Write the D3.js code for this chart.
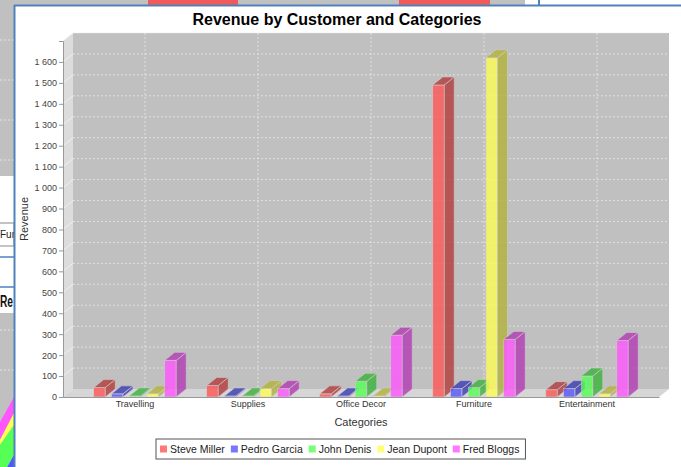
<!DOCTYPE html>
<html>
<head>
<meta charset="utf-8">
<script src="https://cdn.jsdelivr.net/npm/d3@7"></script>
<style>
  body { margin: 0; background: #fff; }
  svg { display: block; font-family: "Liberation Sans", Arial, sans-serif; }
</style>
</head>
<body>
<svg width="681" height="467"></svg>
<script>
// data
const categories = ['Travelling', 'Supplies', 'Office Decor', 'Furniture', 'Entertainment'];
const customers = ['Steve Miller', 'Pedro Garcia', 'John Denis', 'Jean Dupont', 'Fred Bloggs'];
const steveMiller = [45, 55, 15, 1490, 35];
const pedroGarcia = [15, 5, 5, 40, 40];
const johnDenis = [5, 5, 75, 45, 100];
const jeanDupont = [15, 40, 5, 1620, 15];
const fredBloggs = [175, 40, 295, 275, 270];
const seriesValues = [steveMiller, pedroGarcia, johnDenis, jeanDupont, fredBloggs];
const colors = ['#FF5555', '#5555FF', '#55FF55', '#FFFF55', '#FF55FF'];

const svg = d3.select('svg');
const W = 681, H = 467;
const dx = 10, dy = -8; // 3d depth
const plot = {left: 63, right: 659, top: 41, bottom: 397};

// ---- background (window behind the chart panel) ----
const bg = svg.append('g');
bg.append('rect').attr('x', 0).attr('y', 0).attr('width', 525).attr('height', 6).attr('fill', '#c0c0c0');
bg.append('rect').attr('x', 148).attr('y', 0).attr('width', 90).attr('height', 5).attr('fill', '#f25a5a');
bg.append('rect').attr('x', 399).attr('y', 0).attr('width', 91).attr('height', 5).attr('fill', '#f25a5a');
bg.append('line').attr('x1', 539).attr('x2', 539).attr('y1', 0).attr('y2', 6).attr('stroke', '#4f81bd').attr('stroke-width', 2);
bg.append('rect').attr('x', 0).attr('y', 0).attr('width', 14).attr('height', 176).attr('fill', '#c0c0c0');
bg.append('rect').attr('x', 0).attr('y', 313).attr('width', 14).attr('height', 154).attr('fill', '#c0c0c0');
[40, 80, 120, 160, 330, 370].forEach(y =>
  bg.append('line').attr('x1', 0).attr('x2', 14).attr('y1', y).attr('y2', y)
    .attr('stroke', '#e4e4e4').attr('stroke-dasharray', '2,2'));
bg.append('rect').attr('x', -2).attr('y', 223).attr('width', 16).attr('height', 23)
  .attr('fill', '#fff').attr('stroke', '#888');
bg.append('text').attr('x', 0).attr('y', 238).attr('font-size', 10).attr('fill', '#222').text('Fur');
[257, 287].forEach(y =>
  bg.append('line').attr('x1', 0).attr('x2', 14).attr('y1', y).attr('y2', y).attr('stroke', '#4f81bd').attr('stroke-width', 1.5));
bg.append('text').attr('x', 0).attr('y', 307).attr('font-size', 16).attr('font-weight', 'bold')
  .attr('textLength', 13).attr('lengthAdjust', 'spacingAndGlyphs').attr('fill', '#111').text('Re');
const stripes = [
  {c: '#FF55FF', a: [397, 422]},
  {c: '#FFFF55', a: [413, 440]},
  {c: '#55FF55', a: [425, 445]},
  {c: '#5555FF', a: [455, 480]},
  {c: '#c0c0c0', a: [520, 545]}
];
for (let i = 0; i < stripes.length - 1; i++) {
  const s = stripes[i], n = stripes[i + 1];
  bg.append('polygon')
    .attr('points', [[14, s.a[0]], [0, s.a[1]], [0, n.a[1]], [14, n.a[0]]].join(' '))
    .attr('fill', s.c);
}

// ---- chart panel ----
svg.append('rect').attr('x', 14).attr('y', 5).attr('width', W).attr('height', H)
  .attr('fill', '#fff');
svg.append('line').attr('x1', 14).attr('x2', W).attr('y1', 5.5).attr('y2', 5.5).attr('stroke', '#4f81bd').attr('stroke-width', 2);
svg.append('line').attr('x1', 14.5).attr('x2', 14.5).attr('y1', 5).attr('y2', H).attr('stroke', '#4f81bd').attr('stroke-width', 2);

svg.append('text').attr('x', 337).attr('y', 25).attr('text-anchor', 'middle')
  .attr('font-size', 16).attr('font-weight', 'bold').attr('fill', '#000')
  .text('Revenue by Customer and Categories');

const y = d3.scaleLinear().domain([0, 1700]).range([plot.bottom, plot.top]);
const x0 = d3.scaleBand().domain(categories).range([plot.left, plot.right])
  .paddingInner(0.27).paddingOuter(0.272);
const x1 = d3.scaleBand().domain(customers).range([0, x0.bandwidth()]).paddingInner(0.352);

const g = svg.append('g');
// side wall
g.append('polygon').attr('fill', '#dcdcdc')
  .attr('points', [[plot.left, plot.bottom], [plot.left, plot.top], [plot.left + dx, plot.top + dy], [plot.left + dx, plot.bottom + dy]].join(' '));
// floor
g.append('polygon').attr('fill', '#d6d6d6')
  .attr('points', [[plot.left, plot.bottom], [plot.left + dx, plot.bottom + dy], [plot.right + dx, plot.bottom + dy], [plot.right, plot.bottom]].join(' '));
// back wall
g.append('rect').attr('fill', '#c0c0c0')
  .attr('x', plot.left + dx).attr('y', plot.top + dy)
  .attr('width', plot.right - plot.left).attr('height', plot.bottom - plot.top);

// gridlines
const ticks = d3.range(100, 1701, 100);
g.selectAll('.hgrid').data(ticks).join('line')
  .attr('x1', plot.left + dx).attr('x2', plot.right + dx)
  .attr('y1', d => y(d) + dy).attr('y2', d => y(d) + dy)
  .attr('stroke', '#e8e8e8').attr('stroke-width', 0.8).attr('stroke-dasharray', '2,2');
g.selectAll('.sgrid').data(ticks).join('line')
  .attr('x1', plot.left).attr('x2', plot.left + dx)
  .attr('y1', d => y(d)).attr('y2', d => y(d) + dy)
  .attr('stroke', '#f4f4f4').attr('stroke-width', 0.8);
g.selectAll('.vgrid').data(categories).join('line')
  .attr('x1', d => x0(d) + x0.bandwidth() / 2 + dx).attr('x2', d => x0(d) + x0.bandwidth() / 2 + dx)
  .attr('y1', plot.top + dy).attr('y2', plot.bottom + dy)
  .attr('stroke', '#e8e8e8').attr('stroke-width', 0.8).attr('stroke-dasharray', '2,2');

// bars
const alpha = 0.8;
categories.forEach((cat, ci) => {
  customers.forEach((cust, si) => {
    const v = seriesValues[si][ci];
    const bx = x0(cat) + x1(cust), bw = x1.bandwidth();
    const yt = y(v), yb = y(0);
    const base = d3.color(colors[si]);
    const dark = base.darker(1);
    const bar = g.append('g').attr('opacity', alpha);
    bar.append('rect').attr('x', bx).attr('y', yt).attr('width', bw).attr('height', yb - yt)
      .attr('fill', base).attr('stroke', '#d0d0d0').attr('stroke-width', 0.6);
    bar.append('polygon')
      .attr('points', [[bx + bw, yt], [bx + bw + dx, yt + dy], [bx + bw + dx, yb + dy], [bx + bw, yb]].join(' '))
      .attr('fill', dark).attr('stroke', '#d0d0d0').attr('stroke-width', 0.6);
    bar.append('polygon')
      .attr('points', [[bx, yt], [bx + dx, yt + dy], [bx + bw + dx, yt + dy], [bx + bw, yt]].join(' '))
      .attr('fill', dark).attr('stroke', '#d0d0d0').attr('stroke-width', 0.6);
  });
});

// axes
const fmt = d3.formatLocale({decimal: '.', thousands: ' ', grouping: [3], currency: ['', '']}).format(',');
const yAxis = svg.append('g').attr('transform', `translate(${plot.left},0)`)
  .call(d3.axisLeft(y).tickValues(d3.range(0, 1601, 100)).tickFormat(fmt).tickSize(4).tickPadding(2));
yAxis.select('.domain').attr('stroke', '#999');
yAxis.selectAll('.tick line').attr('stroke', '#999');
yAxis.selectAll('text').attr('font-size', 9).attr('fill', '#444').attr('font-family', '"Liberation Sans", Arial, sans-serif');

const xAxis = svg.append('g').attr('transform', `translate(0,${plot.bottom})`)
  .call(d3.axisBottom(x0).tickSize(0).tickPadding(4));
xAxis.select('.domain').attr('stroke', '#999');
xAxis.selectAll('text').attr('font-size', 9).attr('fill', '#333').attr('font-family', '"Liberation Sans", Arial, sans-serif');

svg.append('text').attr('x', (plot.left + plot.right) / 2).attr('y', 426)
  .attr('text-anchor', 'middle').attr('font-size', 11).attr('fill', '#333').text('Categories');
svg.append('text').attr('transform', `translate(28,${(plot.top + plot.bottom) / 2}) rotate(-90)`)
  .attr('text-anchor', 'middle').attr('font-size', 11).attr('fill', '#333').text('Revenue');

// legend
const legend = svg.append('g');
const box = legend.append('rect').attr('y', 439).attr('height', 20)
  .attr('fill', '#fff').attr('stroke', '#555').attr('stroke-width', 1);
let lx = 160;
customers.forEach((c, i) => {
  legend.append('rect').attr('x', lx).attr('y', 445.5).attr('width', 7).attr('height', 7)
    .attr('fill', colors[i]).attr('opacity', alpha);
  const t = legend.append('text').attr('x', lx + 10).attr('y', 453).attr('font-size', 10.5).attr('fill', '#222').text(c);
  lx += 10 + t.node().getComputedTextLength() + 6;
});
box.attr('x', 156).attr('width', lx - 156);
</script>
</body>
</html>
